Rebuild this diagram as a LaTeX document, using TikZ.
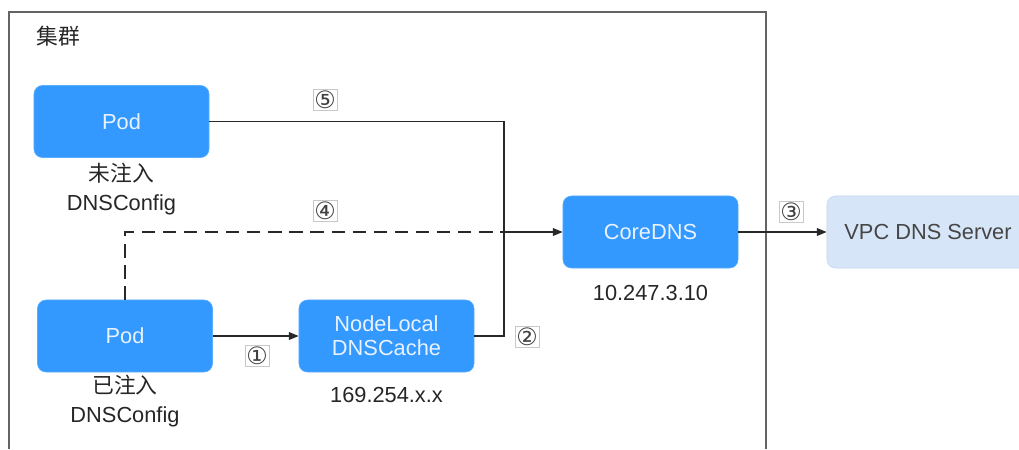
\documentclass[tikz,border=0pt]{standalone}
\usepackage{fontspec}
\setmainfont{Liberation Sans}
\newfontfamily\cjk{Noto Sans CJK SC}
\newfontfamily\symfont{DejaVu Sans}
\usetikzlibrary{arrows.meta, positioning, calc}
\definecolor{podblue}{RGB}{51, 153, 255}
\definecolor{podtext}{RGB}{232, 242, 255}
\definecolor{vpcfill}{RGB}{214, 230, 248}
\definecolor{vpcdraw}{RGB}{196, 214, 236}
\definecolor{vpctext}{RGB}{70, 70, 70}
\definecolor{framegray}{RGB}{100, 100, 100}
\definecolor{linegray}{RGB}{40, 40, 40}
\definecolor{taggray}{RGB}{200, 200, 200}

\begin{document}
\begin{tikzpicture}[
  x=0.025cm, y=-0.025cm,
  font=\fontsize{15.5}{19}\selectfont,
  podbox/.style={rectangle, rounded corners=6pt, fill=podblue, draw=podblue!80!white,
                 text=podtext, align=center, minimum width=4.375cm,
                 minimum height=1.8cm, inner sep=2pt},
  extbox/.style={podbox, fill=vpcfill, draw=vpcdraw, text=vpctext,
                 minimum width=5.05cm},
  note/.style={align=center, text=black!85, inner sep=1pt},
  numtag/.style={draw=taggray, line width=0.4pt, fill=white, inner sep=1pt,
                 font=\symfont\fontsize{17}{17}\selectfont, text=black!75},
  arr/.style={-{Triangle[length=7pt, width=5.5pt]}, line width=0.9pt, linegray},
  wire/.style={line width=0.9pt, linegray}
]
  \useasboundingbox (0,0) rectangle (1019,449);

  %% Cluster frame
  \draw[framegray, line width=0.9pt] (9,449) -- (9,12) -- (766,12) -- (766,449);
  \node[anchor=west, inner sep=0pt, text=black!85] (cluster) at (36,36) {\cjk 集群};

  %% Boxes
  \node[podbox] (pod1) at (121.5,121.5) {Pod};
  \node[podbox] (pod2) at (125,336) {Pod};
  \node[podbox] (cache) at (386.5,336) {NodeLocal\\[-2pt]DNSCache};
  \node[podbox] (core) at (650.5,232) {CoreDNS};
  \node[extbox] (vpc) at (928,232) {VPC DNS Server};

  %% Captions
  \node[note] (pod1cap) at (121.5,189)
    {{\cjk 未注入}\\[1pt]DNSConfig};
  \node[note] (pod2cap) at (125,401)
    {{\cjk 已注入}\\[1pt]DNSConfig};
  \node[note] (cachecap) at (386.5,395) {169.254.x.x};
  \node[note] (corecap) at (650.5,293) {10.247.3.10};

  %% Junction in front of CoreDNS
  \coordinate (join) at (504,232);

  %% Connectors
  \draw[wire] (pod1.east) -| (join);
  \draw[wire] (cache.east) -| (join);
  \draw[wire, dash pattern=on 9.5pt off 5.5pt] (pod2.north) |- (join);
  \draw[arr] (join) -- (core.west);
  \draw[arr] (pod2.east) -- (cache.west);
  \draw[arr] (core.east) -- (vpc.west);

  %% Step numbers
  \node[numtag] (n1) at (257,356) {①};
  \node[numtag] (n2) at (527,337) {②};
  \node[numtag] (n3) at (791,212) {③};
  \node[numtag] (n4) at (325,211) {④};
  \node[numtag] (n5) at (325,100) {⑤};
\end{tikzpicture}
\end{document}
